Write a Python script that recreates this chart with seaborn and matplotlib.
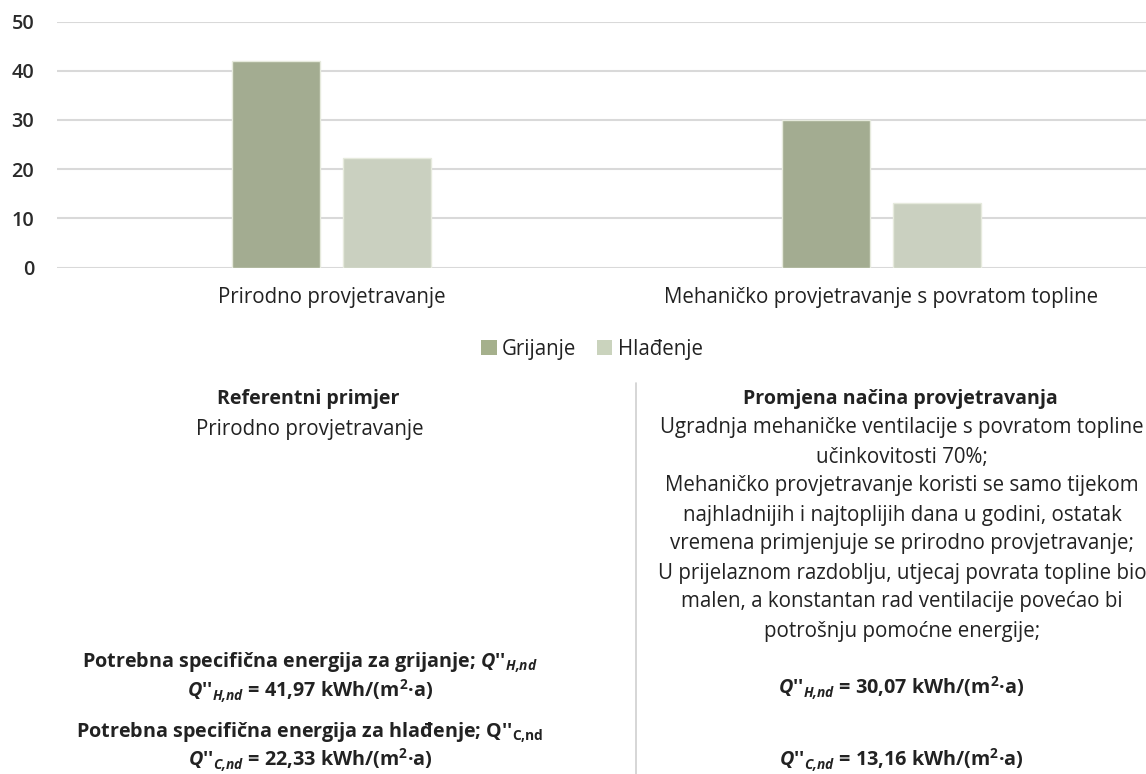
import matplotlib
matplotlib.use("Agg")
import matplotlib.pyplot as plt
from matplotlib.patches import Patch
import seaborn as sns
import pandas as pd

# ---- data ----
categories = ["Prirodno provjetravanje", "Mehaničko provjetravanje s povratom topline"]
series_names = ["Grijanje", "Hlađenje"]
grijanje = [41.97, 30.07]
hladenje = [22.33, 13.16]
y_ticks = [0, 10, 20, 30, 40, 50]

left_title = "Referentni primjer"
left_sub = "Prirodno provjetravanje"
right_title = "Promjena načina provjetravanja"
right_lines = [
    "Ugradnja mehaničke ventilacije s povratom topline",
    "učinkovitosti 70%;",
    "Mehaničko provjetravanje koristi se samo tijekom",
    "najhladnijih i najtoplijih dana u godini, ostatak",
    "vremena primjenjuje se prirodno provjetravanje;",
    "U prijelaznom razdoblju, utjecaj povrata topline bio",
    "malen, a konstantan rad ventilacije povećao bi",
    "potrošnju pomoćne energije;",
]

sns.set_theme(style="white")
plt.rcParams["font.family"] = ["Open Sans", "DejaVu Sans"]
plt.rcParams["mathtext.fontset"] = "custom"
plt.rcParams["mathtext.rm"] = "Open Sans:bold"
plt.rcParams["mathtext.bf"] = "Open Sans:bold"
plt.rcParams["mathtext.it"] = "Open Sans:italic:bold"
plt.rcParams["mathtext.bfit"] = "Open Sans:italic:bold"

df = pd.DataFrame({
    "kategorija": categories * 2,
    "serija": [series_names[0]] * 2 + [series_names[1]] * 2,
    "vrijednost": grijanje + hladenje,
})

W, H = 1146, 774
fig = plt.figure(figsize=(W / 100, H / 100), dpi=100)

ax_left, ax_right = 56.5, 1156.5
ax_top, ax_bot = 21.5, 267.5
ax = fig.add_axes([ax_left / W, 1 - ax_bot / H, (ax_right - ax_left) / W, (ax_bot - ax_top) / H])

colors = ["#A5B08C", "#CAD3BD"]
sns.barplot(data=df, x="kategorija", y="vrijednost", hue="serija", order=categories,
            hue_order=series_names, palette=colors, width=0.4036, gap=0.207,
            edgecolor="#E6EADD", linewidth=1, ax=ax, legend=False, zorder=3)

REG = 14.8
ax.set_ylim(0, 50)
ax.set_xlim(-0.5, 1.5)
ax.set_yticks(y_ticks)
ax.set_yticklabels([str(v) for v in y_ticks], fontsize=14.3, color="#2a2a2a",
                   fontweight="semibold")
ax.yaxis.grid(True, color="#D9D9D9", linewidth=1.5, zorder=0)
ax.set_axisbelow(True)
for s in ax.spines.values():
    s.set_visible(False)
ax.tick_params(axis="y", length=0, pad=16)
ax.tick_params(axis="x", length=0, pad=14)
ax.set_xticks([0, 1])
ax.set_xticklabels(categories, fontsize=REG, color="#222222")
ax.set_xlabel("")
ax.set_ylabel("")

# legend
handles = [Patch(facecolor=c, edgecolor="none") for c in colors]
fig.legend(handles, series_names, loc="center", bbox_to_anchor=(592 / W, 1 - 349 / H),
           ncol=2, frameon=False, fontsize=REG, handlelength=0.75, handleheight=0.75,
           handletextpad=0.25, columnspacing=1.0, labelcolor="#222222")

def T(x, y, s, **kw):
    kw.setdefault("fontsize", REG)
    kw.setdefault("color", "#222222")
    fig.text(x / W, 1 - y / H, s, ha="center", va="center", **kw)

# divider
fig.add_artist(plt.Line2D([636 / W, 636 / W], [1 - 383 / H, 0], color="#CFCFCF", linewidth=1.2))

BLD = 14.2
TTL = 14.1
# left column
T(308.5, 399, left_title, fontweight="bold", fontsize=TTL)
T(309.5, 429, left_sub)
T(310, 663, r"Potrebna specifična energija za grijanje; $\mathbfit{Q}$''$_{\mathbfit{H{,}nd}}$",
  fontweight="bold", fontsize=BLD)
T(310, 691, r"$\mathbfit{Q}$''$_{\mathbfit{H{,}nd}}$ = 41,97 kWh/(m$^{\mathbf{2}}$·a)",
  fontweight="bold", fontsize=BLD)
T(310, 733, r"Potrebna specifična energija za hlađenje; Q''$_{\mathbf{C{,}nd}}$",
  fontweight="bold", fontsize=BLD)
T(310, 760, r"$\mathbfit{Q}$''$_{\mathbfit{C{,}nd}}$ = 22,33 kWh/(m$^{\mathbf{2}}$·a)",
  fontweight="bold", fontsize=BLD)

# right column
T(900, 399, right_title, fontweight="bold", fontsize=TTL)
for i, line in enumerate(right_lines):
    T(902, 428 + 29 * i, line)
T(901, 688, r"$\mathbfit{Q}$''$_{\mathbfit{H{,}nd}}$ = 30,07 kWh/(m$^{\mathbf{2}}$·a)",
  fontweight="bold", fontsize=BLD)
T(901, 760, r"$\mathbfit{Q}$''$_{\mathbfit{C{,}nd}}$ = 13,16 kWh/(m$^{\mathbf{2}}$·a)",
  fontweight="bold", fontsize=BLD)

fig.savefig("out.png", dpi=100, facecolor="white")
